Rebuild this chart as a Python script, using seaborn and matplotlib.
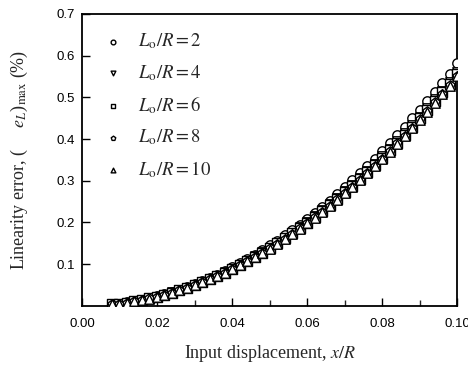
import matplotlib
matplotlib.use("Agg")
import matplotlib.pyplot as plt
import seaborn as sns
import pandas as pd

x_over_r = [0.008, 0.010, 0.012, 0.014, 0.016, 0.018, 0.020, 0.022, 0.024, 0.026,
            0.028, 0.030, 0.032, 0.034, 0.036, 0.038, 0.040, 0.042, 0.044, 0.046,
            0.048, 0.050, 0.052, 0.054, 0.056, 0.058, 0.060, 0.062, 0.064, 0.066,
            0.068, 0.070, 0.072, 0.074, 0.076, 0.078, 0.080, 0.082, 0.084, 0.086,
            0.088, 0.090, 0.092, 0.094, 0.096, 0.098, 0.100]

err_lo2 = [0.0037, 0.0058, 0.0084, 0.0114, 0.0148, 0.0188, 0.0232, 0.0281, 0.0334, 0.0392,
           0.0455, 0.0522, 0.0594, 0.0670, 0.0752, 0.0838, 0.0928, 0.1023, 0.1123, 0.1227,
           0.1336, 0.1450, 0.1568, 0.1691, 0.1819, 0.1951, 0.2088, 0.2230, 0.2376, 0.2526,
           0.2682, 0.2842, 0.3007, 0.3176, 0.3350, 0.3529, 0.3712, 0.3900, 0.4092, 0.4290,
           0.4492, 0.4698, 0.4909, 0.5125, 0.5345, 0.5570, 0.5820]
err_lo4 = [0.0036, 0.0056, 0.0081, 0.0110, 0.0143, 0.0181, 0.0224, 0.0271, 0.0323, 0.0379,
           0.0439, 0.0504, 0.0573, 0.0647, 0.0726, 0.0809, 0.0896, 0.0988, 0.1084, 0.1185,
           0.1290, 0.1400, 0.1514, 0.1633, 0.1756, 0.1884, 0.2016, 0.2153, 0.2294, 0.2439,
           0.2589, 0.2744, 0.2903, 0.3067, 0.3235, 0.3407, 0.3584, 0.3765, 0.3951, 0.4142,
           0.4337, 0.4536, 0.4740, 0.4948, 0.5161, 0.5378, 0.5600]
err_lo6 = [0.0036, 0.0056, 0.0080, 0.0109, 0.0142, 0.0180, 0.0222, 0.0269, 0.0320, 0.0375,
           0.0435, 0.0500, 0.0568, 0.0642, 0.0719, 0.0801, 0.0888, 0.0979, 0.1074, 0.1174,
           0.1279, 0.1388, 0.1501, 0.1618, 0.1740, 0.1867, 0.1998, 0.2133, 0.2273, 0.2418,
           0.2566, 0.2720, 0.2877, 0.3039, 0.3206, 0.3377, 0.3552, 0.3732, 0.3916, 0.4105,
           0.4298, 0.4496, 0.4698, 0.4904, 0.5115, 0.5330, 0.5550]
err_lo8 = [0.0035, 0.0055, 0.0079, 0.0108, 0.0141, 0.0179, 0.0221, 0.0267, 0.0318, 0.0373,
           0.0433, 0.0497, 0.0565, 0.0638, 0.0715, 0.0797, 0.0883, 0.0974, 0.1069, 0.1168,
           0.1272, 0.1380, 0.1493, 0.1610, 0.1731, 0.1857, 0.1987, 0.2122, 0.2261, 0.2405,
           0.2552, 0.2705, 0.2862, 0.3023, 0.3188, 0.3358, 0.3533, 0.3712, 0.3895, 0.4083,
           0.4275, 0.4471, 0.4672, 0.4877, 0.5087, 0.5301, 0.5520]
err_lo10 = [0.0035, 0.0055, 0.0079, 0.0108, 0.0141, 0.0178, 0.0220, 0.0266, 0.0317, 0.0372,
            0.0431, 0.0495, 0.0563, 0.0636, 0.0713, 0.0794, 0.0880, 0.0970, 0.1065, 0.1164,
            0.1267, 0.1375, 0.1487, 0.1604, 0.1725, 0.1850, 0.1980, 0.2114, 0.2253, 0.2396,
            0.2543, 0.2695, 0.2851, 0.3012, 0.3177, 0.3346, 0.3520, 0.3698, 0.3881, 0.4068,
            0.4259, 0.4455, 0.4655, 0.4860, 0.5069, 0.5282, 0.5500]

ratios = ["2", "4", "6", "8", "10"]
series = [err_lo2, err_lo4, err_lo6, err_lo8, err_lo10]
markers = ["o", "v", "s", "p", "^"]

x_ticks = [0.00, 0.02, 0.04, 0.06, 0.08, 0.10]
y_ticks = [0.1, 0.2, 0.3, 0.4, 0.5, 0.6, 0.7]

frames = []
for r, vals in zip(ratios, series):
    frames.append(pd.DataFrame({"x": x_over_r, "err": vals, "ratio": r}))
df = pd.concat(frames, ignore_index=True)

sns.set_style("ticks")
plt.rcParams["mathtext.fontset"] = "stix"
plt.rcParams["font.family"] = ["Liberation Sans", "DejaVu Sans"]

fig = plt.figure(figsize=(4.68, 3.74), dpi=100)
ax = fig.add_axes([0.175, 0.182, 0.802, 0.781])

for r, m in zip(ratios, markers):
    sub = df[df["ratio"] == r]
    sns.scatterplot(data=sub, x="x", y="err", marker=m, s=46,
                    facecolor="white", edgecolor="black", linewidth=1.0,
                    label=r"$L_{\mathrm{o}}/R = %s$" % r, ax=ax, zorder=3)

ax.set_xlim(0.0, 0.10)
ax.set_ylim(0.0, 0.7)
ax.set_xticks(x_ticks)
ax.set_xticklabels(["%.2f" % t for t in x_ticks])
ax.set_xticks([0.01, 0.03, 0.05, 0.07, 0.09], minor=True)
ax.set_yticks(y_ticks)
ax.set_yticklabels(["%.1f" % t for t in y_ticks])

ax.tick_params(axis="both", which="major", direction="in", length=6, width=1.0,
               labelsize=9.5, colors="black")
ax.tick_params(axis="x", which="major", pad=9)
ax.tick_params(axis="y", which="major", pad=5)
ax.tick_params(axis="x", which="minor", direction="in", length=4, width=1.0)
for s in ax.spines.values():
    s.set_visible(True)
    s.set_linewidth(1.3)
    s.set_color("black")

ax.set_xlabel(r"Input displacement, $x/R$", family="Liberation Serif",
              fontsize=13, labelpad=9)
ax.set_ylabel(r"Linearity error, (     $e_L$)$_{\mathrm{max}}$ (%)",
              family="Liberation Serif", fontsize=13, labelpad=19)

leg = ax.legend(loc="upper left", frameon=False, markerscale=0.5,
                fontsize=13.5, handletextpad=0.6, labelspacing=0.62,
                handlelength=1.5, borderaxespad=0.0,
                bbox_to_anchor=(0.025, 0.965))

fig.savefig("out.png", dpi=100)
